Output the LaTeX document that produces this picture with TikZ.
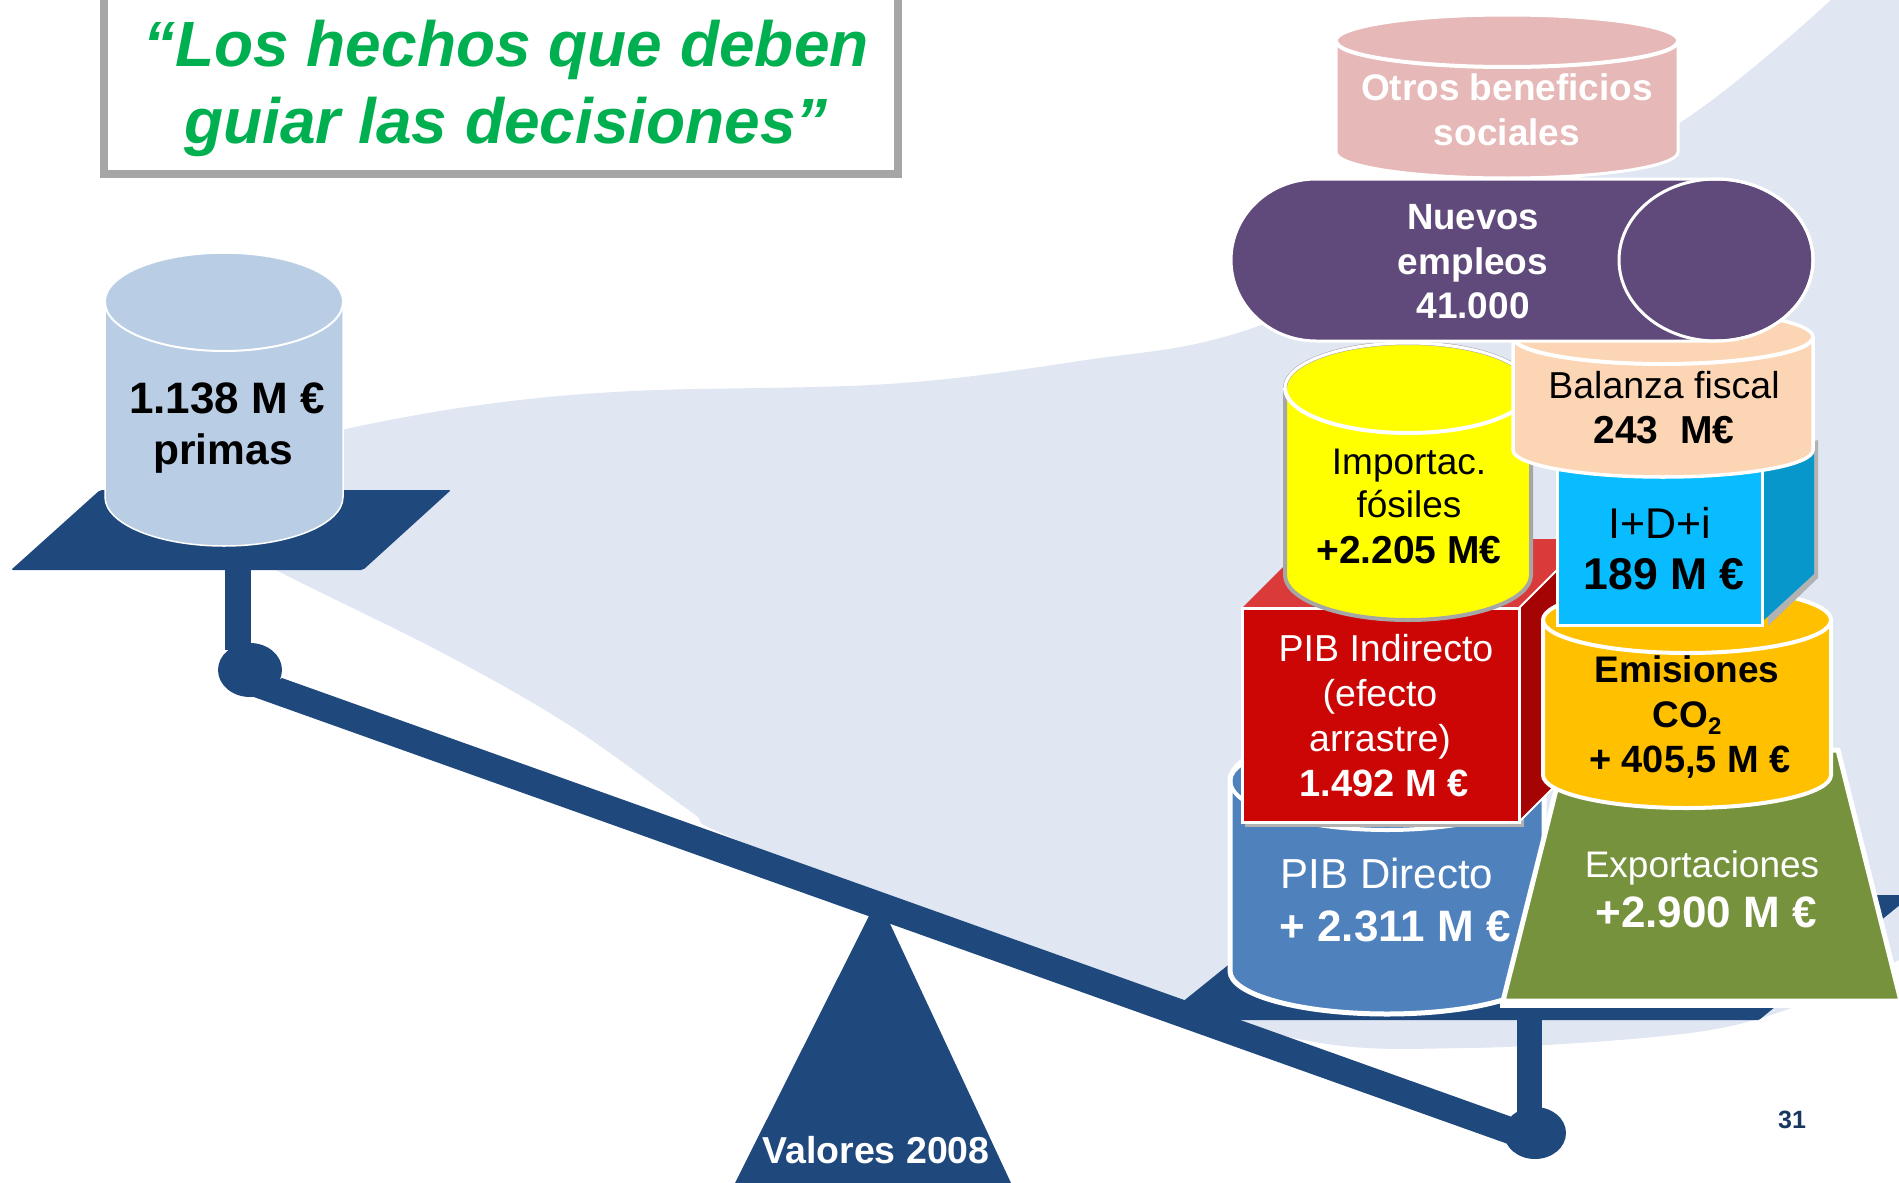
\documentclass[tikz,border=0pt]{standalone}
\usepackage{fontspec}
\setmainfont{Liberation Sans}
\usetikzlibrary{shapes.geometric}
\definecolor{navy}{HTML}{1F497D}
\definecolor{paleb}{HTML}{E0E7F3}
\definecolor{titlegreen}{HTML}{00B050}
\definecolor{framegray}{HTML}{A6A6A6}
\definecolor{cylblue}{HTML}{B9CDE5}
\definecolor{cylpink}{HTML}{E6B8B7}
\definecolor{cylpurple}{HTML}{604A7B}
\definecolor{cylpeach}{HTML}{FCD5B5}
\definecolor{cylorange}{HTML}{FFC000}
\definecolor{cylsteel}{HTML}{4F81BD}
\definecolor{cylyellow}{HTML}{FFFF00}
\definecolor{olive}{HTML}{76923C}
\definecolor{boxred}{HTML}{CC0605}
\definecolor{boxredside}{HTML}{A50404}
\definecolor{boxredtop}{HTML}{DB3A3A}
\definecolor{boxcyan}{HTML}{09BBFF}
\definecolor{boxcyanside}{HTML}{0797CB}
\definecolor{pagenum}{HTML}{17375E}
\newcommand{\fsz}[1]{\fontsize{#1}{#1}\selectfont}
% cx, y of top centre, rx, ry, y of bottom centre, options, width of the rim line
\newcommand{\cylshape}[7]{%
  \path[#6] ({#1-#3},#2) -- ({#1-#3},#5)
    arc[start angle=180,end angle=0,x radius=#3,y radius=#4]
    -- ({#1+#3},#2)
    arc[start angle=0,end angle=-180,x radius=#3,y radius=#4] -- cycle;
  \draw[white,line width=#7] ({#1-#3},#2)
    arc[start angle=180,end angle=0,x radius=#3,y radius=#4];
}
\tikzset{
  lbl/.style={anchor=base,inner sep=0pt,outer sep=0pt},
  wline/.style={draw=white,line width=3}
}
\begin{document}
\begin{tikzpicture}[x=1pt,y=-1pt]
\useasboundingbox (0,0) rectangle (1899,1183);
\clip (0,0) rectangle (1899,1183);
\fill[white] (0,0) rectangle (1899,1183);
% pale swoosh
\fill[paleb] plot[smooth,tension=.6] coordinates {(300,445) (346,429) (480,405) (633,391) (888,384) (1079,361) (1250,329) (1480,226) (1681,122) (1831,0)}
  -- (1899,0) -- (1899,960)
  -- plot[smooth,tension=.55] coordinates {(1899,960) (1800,1005) (1690,1033) (1467,1048) (1289,1037) (1000,945) (728,836) (690,811) (569,725) (441,652) (276,570) (230,540)} -- cycle;
% title
\draw[framegray,line width=8,fill=white] (104,-20) rectangle (898,174);
\node[lbl,text=titlegreen] (t1) at (506,66) {\fsz{64}\bfseries\itshape “Los hechos que deben};
\node[lbl,text=titlegreen] (t2) at (506,143) {\fsz{64}\bfseries\itshape guiar las decisiones”};
% scale
\fill[navy] (878,898) -- (735,1183) -- (1011,1183) -- cycle;
\node[lbl,text=white] (valores) at (876,1163) {\fsz{37.5}\bfseries Valores 2008};
\fill[navy,rounded corners=2] (100,490) -- (451,490) -- (363,570) -- (11,570) -- cycle;
\fill[navy,rounded corners=1] (1160,1020) -- (1315,895) -- (1912,895) -- (1759,1020) -- cycle;
\fill[navy] (225,565) rectangle (251,650);
\fill[navy] (1517,1015) rectangle (1542,1120);
\fill[navy] (250,670) ellipse[x radius=32,y radius=27];
\fill[navy] (1535,1133) ellipse[x radius=31,y radius=26];
\fill[navy] (251,696) -- (282,678) -- (1540,1127) -- (1508,1144) -- cycle;
% left cylinder
\cylshape{224}{302}{119}{49}{497}{fill=cylblue,draw=white,line width=1.5}{2}
\node[lbl] (prim1) at (227,413) {\fsz{44}\bfseries 1.138 M €};
\node[lbl] (prim2) at (223,464) {\fsz{42.5}\bfseries primas};
% PIB directo
\cylshape{1387}{780}{157}{43}{971}{fill=cylsteel,draw=white,line width=5}{0.1}
\draw[white,line width=4] (1387,780) ellipse[x radius=157,y radius=50];
\node[lbl,text=white] (dir1) at (1387,888) {\fsz{42}PIB Directo};
\node[lbl,text=white] (dir2) at (1395,941) {\fsz{44}\bfseries + 2.311 M €};
% PIB indirecto box
\fill[black!30] (1245,612) rectangle (1524,827);
\fill[boxredtop] (1242,608) -- (1311,539) -- (1588,539) -- (1519,608) -- cycle;
\fill[boxredside] (1519,608) -- (1588,539) -- (1588,753) -- (1519,822) -- cycle;
\draw[white,line width=2] (1519,608) -- (1588,539);
\draw[white,line width=2] (1519,822) -- (1588,753);
\draw[white,line width=3,fill=boxred] (1242,608) rectangle (1519,822);
\node[lbl,text=white] (ind1) at (1386,661) {\fsz{37.5}PIB Indirecto};
\node[lbl,text=white] (ind2) at (1380,706) {\fsz{37.5}(efecto};
\node[lbl,text=white] (ind3) at (1380,751) {\fsz{37.5}arrastre)};
\node[lbl,text=white] (ind4) at (1384,796) {\fsz{38}\bfseries 1.492 M €};
% trapezoid
\fill[white] (1500,998) rectangle (1899,1008);
\draw[white,line width=5,fill=olive] (1566,750) -- (1838,750) -- (1901,1001) -- (1503,1001) -- cycle;
\node[lbl,text=white] (exp1) at (1702,877) {\fsz{37}Exportaciones};
\node[lbl,text=white] (exp2) at (1706,927) {\fsz{44}\bfseries +2.900 M €};
% Emisiones
\cylshape{1687}{620}{144}{33}{775}{fill=cylorange,draw=white,line width=4}{4}
\node[lbl] (emi1) at (1687,682) {\fsz{37}\bfseries Emisiones};
\node[lbl] (emi2) at (1687,727) {\fsz{37}\bfseries CO\raisebox{-7pt}{\fsz{24}2}};
\node[lbl] (emi3) at (1690,772) {\fsz{38}\bfseries + 405,5 M €};
% I+D+i box
\fill[black!30] (1768,455) -- (1818,440) -- (1818,578) -- (1768,626) -- cycle;
\fill[boxcyanside] (1762,440) -- (1814,440) -- (1814,574) -- (1764,620) -- cycle;
\draw[white,line width=3,fill=boxcyan] (1557,440) rectangle (1762,625);
\node[lbl] (id1) at (1660,538) {\fsz{43}I+D+i};
\node[lbl] (id2) at (1664,589) {\fsz{44.5}\bfseries 189 M €};
% yellow cylinder
\cylshape{1408}{388}{123}{45}{575}{fill=cylyellow,draw=black!35,line width=4}{4}
\draw[white,line width=3] (1285,388) arc[start angle=180,end angle=360,x radius=123,y radius=45];
\node[lbl] (imp1) at (1409,474) {\fsz{37}Importac.};
\node[lbl] (imp2) at (1409,517) {\fsz{37}fósiles};
\node[lbl] (imp3) at (1409,563) {\fsz{39}\bfseries +2.205 M€};
% peach cylinder
\cylshape{1663}{337}{150}{27}{450}{fill=cylpeach,draw=white,line width=3.5}{4}
\node[lbl] (bal1) at (1664,398) {\fsz{37.5}Balanza fiscal};
\node[lbl] (bal2) at (1664,443) {\fsz{39}\bfseries 243~~M€};
% purple
\path[wline,fill=cylpurple] (1316,179) -- (1716,179)
  arc[start angle=-90,end angle=90,x radius=97,y radius=81]
  -- (1316,341)
  arc[start angle=90,end angle=270,x radius=85,y radius=81] -- cycle;
\draw[wline] (1716,260) ellipse[x radius=97,y radius=81];
\node[lbl,text=white] (emp1) at (1473,229) {\fsz{36.5}\bfseries Nuevos};
\node[lbl,text=white] (emp2) at (1473,274) {\fsz{37}\bfseries empleos};
\node[lbl,text=white] (emp3) at (1473,318) {\fsz{37}\bfseries 41.000};
% pink
\cylshape{1507}{41}{171}{26}{152}{fill=cylpink,draw=white,line width=3}{4}
\node[lbl,text=white] (ot1) at (1507,100) {\fsz{37}\bfseries Otros beneficios};
\node[lbl,text=white] (ot2) at (1507,145) {\fsz{37}\bfseries sociales};
% page number
\node[lbl,text=pagenum] (pg) at (1792,1128) {\fsz{25}\bfseries 31};
\end{tikzpicture}
\end{document}
